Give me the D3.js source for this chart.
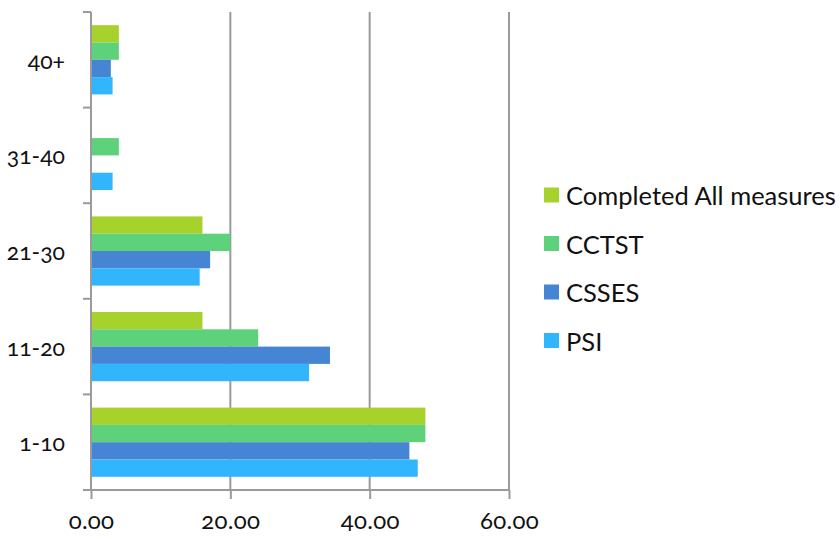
<!DOCTYPE html>
<html>
<head>
<meta charset="utf-8">
<script src="https://cdn.jsdelivr.net/npm/d3@7"></script>
<style>
  html, body { margin: 0; padding: 0; background: #fff; }
  svg text { font-family: "Lato", "Open Sans", sans-serif; fill: #111; font-variant-numeric: oldstyle-nums; font-feature-settings: "onum" 1; }
</style>
</head>
<body>
<svg id="chart" width="840" height="539"></svg>
<script>
// Age bands, listed bottom-to-top on the chart
const categories = ["1-10", "11-20", "21-30", "31-40", "40+"];
// Series in legend order (also top-to-bottom order inside each group)
const seriesNames = ["Completed All measures", "CCTST", "CSSES", "PSI"];
const seriesColors = ["#a7d12b", "#5dd27b", "#4585d3", "#31b6fe"];
const completedAll = [48.0, 16.0, 16.0, 0, 4.0];
const cctst = [48.0, 24.0, 20.0, 4.0, 4.0];
const csses = [45.7, 34.3, 17.1, 0, 2.85];
const psi = [46.9, 31.3, 15.6, 3.1, 3.1];
const xTicks = [0, 20, 40, 60];

const seriesValues = [completedAll, cctst, csses, psi];

const svg = d3.select("#chart");
const plot = { left: 91, right: 509, top: 12, bottom: 490 };

const x = d3.scaleLinear().domain([0, 60]).range([plot.left, plot.right]);
// Categories run bottom to top
const y = d3.scaleBand().domain(categories).range([plot.bottom, plot.top]).paddingInner(0.276).paddingOuter(0.138);
const ySub = d3.scaleBand().domain(seriesNames).range([0, y.bandwidth()]);

// Vertical gridlines
svg.append("g")
  .selectAll("line")
  .data(xTicks.filter(d => d > 0))
  .join("line")
  .attr("x1", d => x(d)).attr("x2", d => x(d))
  .attr("y1", plot.top).attr("y2", plot.bottom)
  .attr("stroke", "#9a9a9a").attr("stroke-width", 2);

// Bars
const groups = svg.append("g")
  .selectAll("g")
  .data(categories)
  .join("g")
  .attr("transform", c => `translate(0,${y(c)})`);

groups.selectAll("rect")
  .data((c, i) => seriesNames.map((s, k) => ({ s, k, v: seriesValues[k][i] })))
  .join("rect")
  .filter(d => d.v > 0)
  .attr("x", x(0))
  .attr("y", d => ySub(d.s))
  .attr("width", d => x(d.v) - x(0))
  .attr("height", ySub.bandwidth())
  .attr("fill", d => seriesColors[d.k]);

// X axis
const xAxis = d3.axisBottom(x).tickValues(xTicks).tickFormat(d3.format(".2f")).tickSize(9).tickPadding(13);
const gx = svg.append("g").attr("transform", `translate(0,${plot.bottom})`).call(xAxis);
gx.select(".domain").attr("stroke", "#9a9a9a").attr("stroke-width", 2).attr("d", `M${plot.left - 8},0H${plot.right}`);
gx.selectAll(".tick line").attr("stroke", "#9a9a9a").attr("stroke-width", 2);
gx.selectAll(".tick text").style("font-size", "24px").style("font-family", null).style("letter-spacing", "0.3px").attr("fill", "#111");

// Y axis with tick marks at band boundaries
const gy = svg.append("g");
gy.append("line")
  .attr("x1", plot.left).attr("x2", plot.left)
  .attr("y1", plot.top).attr("y2", plot.bottom)
  .attr("stroke", "#9a9a9a").attr("stroke-width", 2);
const boundaries = d3.range(categories.length + 1).map(i => plot.bottom - i * (plot.bottom - plot.top) / categories.length);
gy.selectAll("line.tick")
  .data(boundaries)
  .join("line")
  .attr("class", "tick")
  .attr("x1", plot.left - 8).attr("x2", plot.left)
  .attr("y1", d => d).attr("y2", d => d)
  .attr("stroke", "#9a9a9a").attr("stroke-width", 2);
gy.selectAll("text")
  .data(categories)
  .join("text")
  .attr("x", 65)
  .attr("y", c => y(c) + y.bandwidth() / 2)
  .attr("text-anchor", "end")
  .attr("dominant-baseline", "central")
  .style("font-size", "23px")
  .text(c => c);

// Legend
const legend = svg.append("g").attr("transform", "translate(544,195)");
const items = legend.selectAll("g")
  .data(seriesNames)
  .join("g")
  .attr("transform", (d, i) => `translate(0,${i * 48.5})`);
items.append("rect")
  .attr("x", 0).attr("y", -7.5)
  .attr("width", 15).attr("height", 15)
  .attr("fill", (d, i) => seriesColors[i]);
items.append("text")
  .attr("x", 22).attr("y", 0)
  .attr("dominant-baseline", "central")
  .style("font-size", "25.5px")
  .text(d => d);
</script>
</body>
</html>
